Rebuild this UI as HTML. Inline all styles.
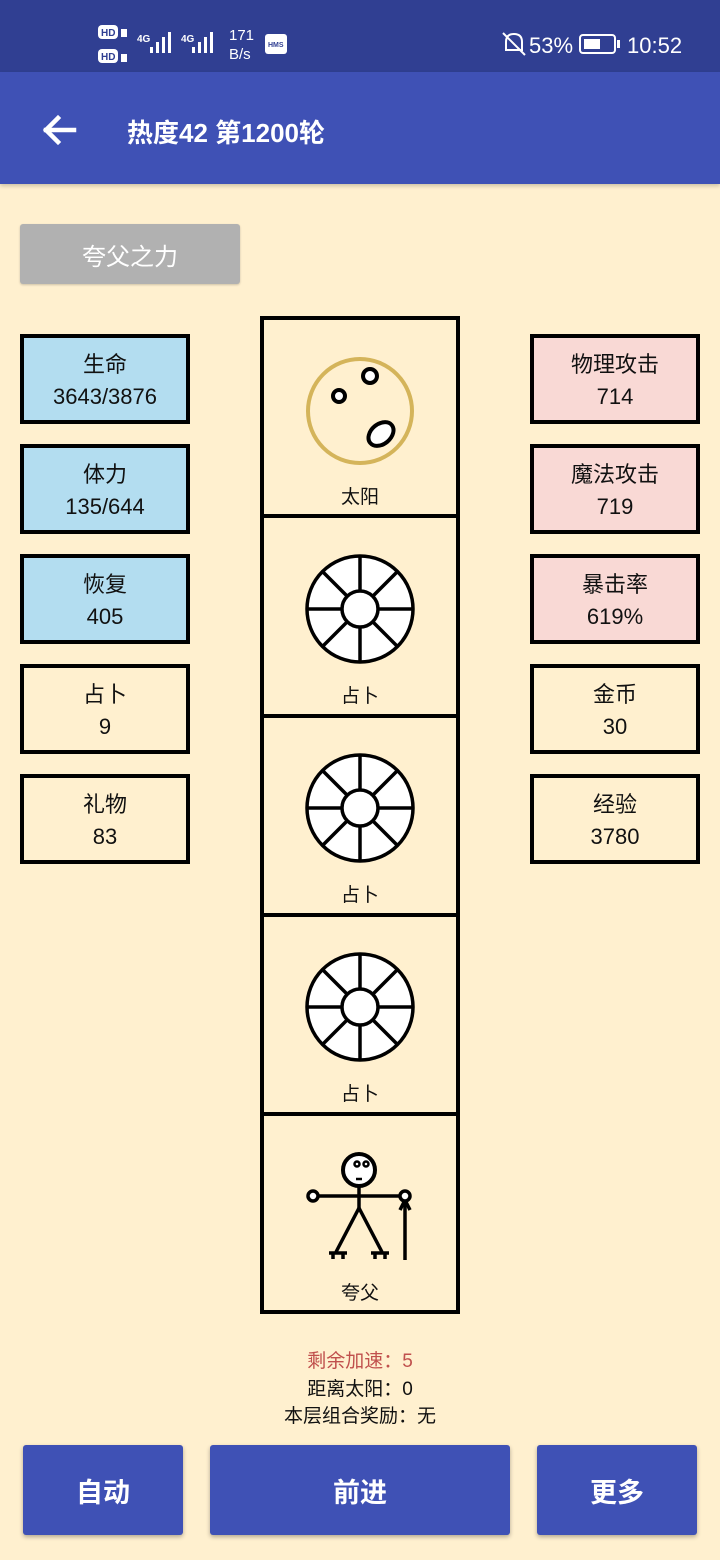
<!DOCTYPE html>
<html><head><meta charset="utf-8"><style>
*{margin:0;padding:0;box-sizing:border-box}
body{width:720px;height:1560px;background:#fff0cf;position:relative;overflow:hidden;font-family:"Liberation Sans","Noto Sans CJK SC",sans-serif;color:#111}
.abs{position:absolute}
.box{position:absolute;width:170px;height:90px;border:4px solid #000;text-align:center;font-size:22px;line-height:32px;padding-top:11px}
.blue{background:#b3ddf0}.pink{background:#f9d9d5}
.btn{position:absolute;top:1445px;height:90px;background:#3f51b5;color:#fff;font-size:27px;font-weight:bold;display:flex;align-items:center;justify-content:center;border-radius:3px;box-shadow:0 2px 4px rgba(0,0,0,.3)}
.lbl{position:absolute;left:260px;width:200px;text-align:center;font-size:19px}
.info{position:absolute;left:0;width:720px;text-align:center;font-size:19px}
</style></head><body>
<div class="abs" style="left:0;top:0;width:720px;height:72px;background:#303f92"></div>
<div class="abs" style="left:0;top:72px;width:720px;height:112px;background:#3f51b5;box-shadow:0 2px 4px rgba(0,0,0,.2)"></div>
<svg class="abs" style="left:0;top:0" width="720" height="72">
<g fill="#fff" font-family="Liberation Sans" font-weight="bold">
<rect x="98" y="25" width="20" height="14" rx="4"/><rect x="98" y="49" width="20" height="14" rx="4"/>
<text x="101" y="36" font-size="10" fill="#303f92">HD</text><text x="101" y="60" font-size="10" fill="#303f92">HD</text>
<rect x="121" y="29" width="6" height="8"/><rect x="121" y="54" width="6" height="8"/>
<text x="137" y="42" font-size="10">4G</text><text x="181" y="42" font-size="10">4G</text>
<rect x="150" y="47" width="3" height="6"/><rect x="156" y="42" width="3" height="11"/><rect x="162" y="37" width="3" height="16"/><rect x="168" y="32" width="3" height="21"/>
<rect x="192" y="47" width="3" height="6"/><rect x="198" y="42" width="3" height="11"/><rect x="204" y="37" width="3" height="16"/><rect x="210" y="32" width="3" height="21"/>
<rect x="265" y="34" width="22" height="20" rx="3"/>
<text x="268" y="47" font-size="7" fill="#303f92">HMS</text>
</g>
<text x="229" y="40" font-size="15" fill="#fff" font-family="Liberation Sans">171</text>
<text x="229" y="59" font-size="15" fill="#fff" font-family="Liberation Sans">B/s</text>
<g stroke="#fff" stroke-width="2" fill="none"><path d="M506 50 L506 42 Q506 34 514 34 Q522 34 522 42 L522 50 Z"/><line x1="503" y1="33" x2="525" y2="55"/></g>
<text x="529" y="53" font-size="22" fill="#fff" font-family="Liberation Sans">53%</text>
<rect x="580" y="35" width="35" height="18" rx="3" fill="none" stroke="#fff" stroke-width="2"/>
<rect x="584" y="39" width="16" height="10" fill="#fff"/><rect x="617" y="40" width="3" height="8" fill="#fff"/>
<text x="627" y="53" font-size="22" fill="#fff" font-family="Liberation Sans">10:52</text>
</svg>
<svg class="abs" style="left:40px;top:112px" width="40" height="36"><g stroke="#fff" stroke-width="4.5" fill="none" stroke-linecap="square"><line x1="6" y1="18" x2="34" y2="18"/><polyline points="18,6 6,18 18,30"/></g></svg>
<div class="abs" style="left:127px;top:113px;color:#fff;font-size:26px;font-weight:bold">热度42 第1200轮</div>
<div class="abs" style="left:20px;top:224px;width:220px;height:60px;background:#b1b1b1;border-radius:3px;color:#fff;font-size:24px;display:flex;align-items:center;justify-content:center;box-shadow:0 1px 2px rgba(0,0,0,.2)">夸父之力</div>
<div class="box blue" style="left:20px;top:334px">生命<br>3643/3876</div>
<div class="box blue" style="left:20px;top:444px">体力<br>135/644</div>
<div class="box blue" style="left:20px;top:554px">恢复<br>405</div>
<div class="box" style="left:20px;top:664px">占卜<br>9</div>
<div class="box" style="left:20px;top:774px">礼物<br>83</div>
<div class="box pink" style="left:530px;top:334px">物理攻击<br>714</div>
<div class="box pink" style="left:530px;top:444px">魔法攻击<br>719</div>
<div class="box pink" style="left:530px;top:554px">暴击率<br>619%</div>
<div class="box" style="left:530px;top:664px">金币<br>30</div>
<div class="box" style="left:530px;top:774px">经验<br>3780</div>
<svg class="abs" style="left:0;top:0" width="720" height="1400">
<rect x="262" y="318" width="196" height="994" fill="none" stroke="#000" stroke-width="4"/>
<g stroke="#000" stroke-width="4"><line x1="260" y1="516" x2="460" y2="516"/><line x1="260" y1="716" x2="460" y2="716"/><line x1="260" y1="915" x2="460" y2="915"/><line x1="260" y1="1114" x2="460" y2="1114"/></g>
<circle cx="360" cy="411" r="52" fill="none" stroke="#d4b45a" stroke-width="4"/>
<g fill="#fff" stroke="#000" stroke-width="4"><circle cx="339" cy="396" r="6"/><circle cx="370" cy="376" r="7"/><ellipse cx="381" cy="434" rx="14" ry="10" transform="rotate(-40 381 434)"/></g>
<g id="w" fill="#fff" stroke="#000" stroke-width="3.5">
<circle cx="360" cy="609" r="53"/>
<line x1="307" y1="609" x2="413" y2="609"/><line x1="360" y1="556" x2="360" y2="662"/>
<line x1="323" y1="572" x2="397" y2="646"/><line x1="397" y1="572" x2="323" y2="646"/>
<circle cx="360" cy="609" r="18"/></g>
<use href="#w" y="199"/><use href="#w" y="398"/>
<g stroke="#000" stroke-width="3.5" fill="#fff">
<line x1="318" y1="1196" x2="400" y2="1196"/>
<line x1="359" y1="1186" x2="359" y2="1208"/>
<line x1="359" y1="1208" x2="336" y2="1252"/><line x1="359" y1="1208" x2="382" y2="1252"/>
<line x1="329" y1="1253" x2="347" y2="1253"/><line x1="371" y1="1253" x2="389" y2="1253"/>
<line x1="333" y1="1253" x2="333" y2="1259"/><line x1="343" y1="1253" x2="343" y2="1259"/>
<line x1="375" y1="1253" x2="375" y2="1259"/><line x1="385" y1="1253" x2="385" y2="1259"/>
<line x1="405" y1="1200" x2="405" y2="1260"/>
<polyline points="400,1210 405,1200 410,1210" fill="none"/>
<circle cx="359" cy="1170" r="16" stroke-width="4"/>
<circle cx="313" cy="1196" r="5"/><circle cx="405" cy="1196" r="5"/>
<circle cx="357" cy="1164" r="2.5" stroke-width="2.5"/><circle cx="366" cy="1164" r="2.5" stroke-width="2.5"/>
<line x1="356" y1="1179" x2="362" y2="1179" stroke-width="2.5"/>
</g>
</svg>
<div class="lbl" style="top:482px">太阳</div>
<div class="lbl" style="top:681px">占卜</div>
<div class="lbl" style="top:880px">占卜</div>
<div class="lbl" style="top:1079px">占卜</div>
<div class="lbl" style="top:1278px">夸父</div>
<div class="info" style="top:1346px;color:#c0504d">剩余加速：5</div>
<div class="info" style="top:1374px">距离太阳：0</div>
<div class="info" style="top:1401px">本层组合奖励：无</div>
<div class="btn" style="left:23px;width:160px">自动</div>
<div class="btn" style="left:210px;width:300px">前进</div>
<div class="btn" style="left:537px;width:160px">更多</div>
</body></html>
